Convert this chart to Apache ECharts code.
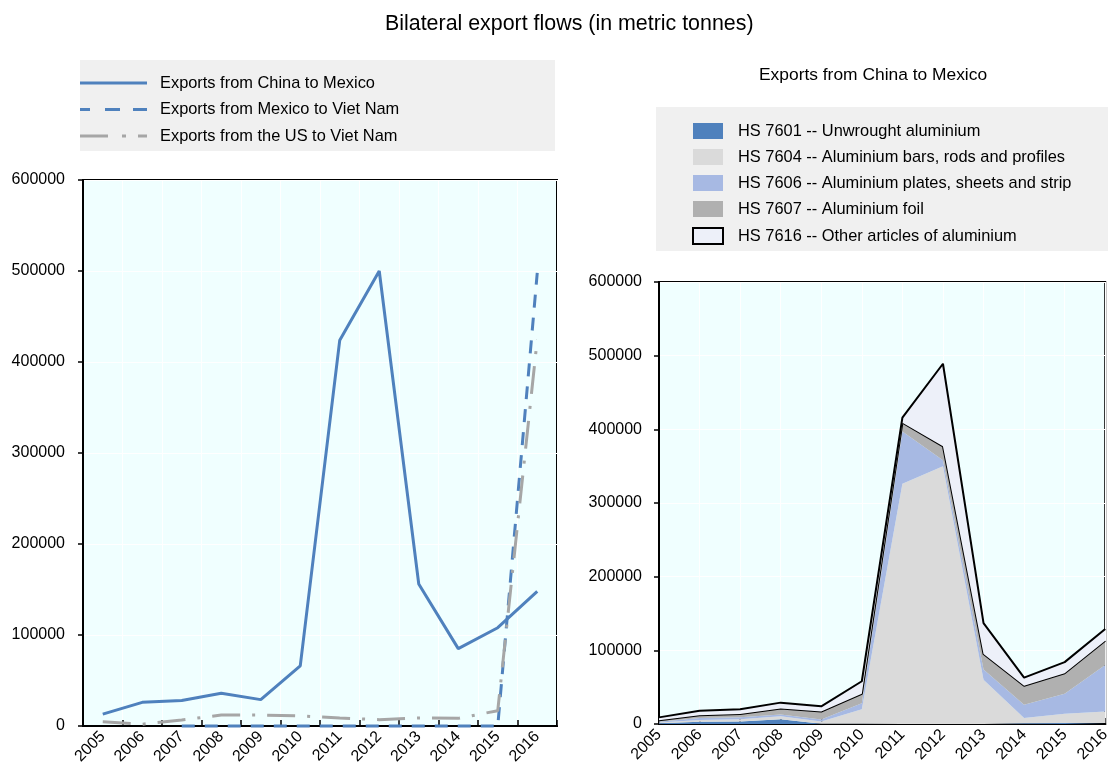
<!DOCTYPE html>
<html>
<head>
<meta charset="utf-8">
<script src="https://cdn.jsdelivr.net/npm/echarts@6/dist/echarts.min.js"></script>
<style>
html,body{margin:0;padding:0;background:#fff;}
#chart{width:1113px;height:767px;}
</style>
</head>
<body>
<div id="chart"></div>
<script>
// ---- data ----
var years = ['2005','2006','2007','2008','2009','2010','2011','2012','2013','2014','2015','2016'];
var yTicks = [0, 100000, 200000, 300000, 400000, 500000, 600000];

var chinaToMexico = [13000, 26000, 28000, 36000, 29000, 66000, 424000, 500000, 156000, 85000, 108000, 148000];
var mexicoToVietNam = [null, null, 0, 0, 0, 0, 0, 0, 0, 0, 0, 498000];
var usToVietNam = [4700, 2000, 6600, 12000, 12000, 11000, 8800, 7000, 8800, 8400, 16800, 425000];

var hs7601 = [1000, 3000, 3500, 6500, 500, 500, 0, 0, 0, 1000, 1500, 1500];
var hs7604 = [1000, 2500, 3000, 4000, 3000, 19500, 326000, 350000, 60000, 7000, 12500, 15500];
var hs7606 = [1000, 2500, 2500, 2500, 2500, 8000, 71000, 8000, 14000, 18000, 27000, 63000];
var hs7607 = [2000, 4000, 4500, 8000, 11000, 13000, 12000, 19000, 21000, 26000, 28000, 33000];
var hs7616 = [4000, 6000, 6500, 8000, 7000, 17000, 7000, 112000, 42000, 11000, 15000, 16000];

var leftNames = ['Exports from China to Mexico', 'Exports from Mexico to Viet Nam', 'Exports from the US to Viet Nam'];
var rightNames = ['HS 7601 -- Unwrought aluminium', 'HS 7604 -- Aluminium bars, rods and profiles',
  'HS 7606 -- Aluminium plates, sheets and strip', 'HS 7607 -- Aluminium foil', 'HS 7616 -- Other articles of aluminium'];

// ---- styles ----
var FONT = '"Liberation Sans", Arial, sans-serif';
var BLUE = '#4f81bd', GREY = '#a6a6a6';
var areaColors = ['#4f81bd', '#dadada', '#a7b9e3', '#b0b0b0', '#edf0f9'];
var legendIcons = [
  'path://M0,0H67V3H0Z',
  'path://M0,0H10V3H0Z M25,0H40V3H25Z M53,0H67V3H53Z',
  'path://M0,0H28V3H0Z M42,0H46V3H42Z M58,0H67V3H58Z'
];

function yAxis(gridIndex, margin) {
  return {
    type: 'value', gridIndex: gridIndex, min: yTicks[0], max: yTicks[yTicks.length - 1], interval: yTicks[1] - yTicks[0],
    axisLine: {show: true, lineStyle: {color: '#000', width: 2}},
    axisTick: {show: true, inside: false, length: 5, lineStyle: {color: '#000', width: 1.5}},
    axisLabel: {color: '#000', fontSize: 16, fontFamily: FONT, margin: margin,
      formatter: function (v) { return String(v); }},
    splitLine: {show: true, lineStyle: {color: '#ffffff', width: 1}}
  };
}
function xAxis(gridIndex, boundaryGap) {
  return {
    type: 'category', gridIndex: gridIndex, data: years, boundaryGap: boundaryGap,
    axisLine: {show: true, lineStyle: {color: '#000', width: 2}},
    axisTick: {show: true, inside: true, length: 6, lineStyle: {color: '#000', width: 1.5}},
    axisLabel: {color: '#000', fontSize: 16, fontFamily: FONT, rotate: 45, margin: 8, interval: 0},
    splitLine: {show: true, interval: 0, lineStyle: {color: '#ffffff', width: 1}}
  };
}

var areaSeries = [hs7601, hs7604, hs7606, hs7607, hs7616].map(function (d, i) {
  var outlined = (i >= 3);
  return {
    name: rightNames[i], type: 'line', xAxisIndex: 1, yAxisIndex: 1, stack: 'total',
    data: d, symbol: 'none', showSymbol: false, z: 2 + i,
    itemStyle: {color: areaColors[i]},
    lineStyle: outlined ? {color: '#000', width: 2} : {width: 0, color: areaColors[i]},
    areaStyle: {color: areaColors[i], opacity: 1},
    emphasis: {disabled: true}
  };
});

var option = {
  animation: false,
  backgroundColor: '#ffffff',
  textStyle: {fontFamily: FONT},
  title: [
    {text: 'Bilateral export flows (in metric tonnes)', left: 385, top: 14, padding: 0,
     textStyle: {fontSize: 21.4, fontWeight: 'normal', color: '#000', fontFamily: FONT}},
    {text: 'Exports from China to Mexico', left: 759, top: 67, padding: 0,
     textStyle: {fontSize: 17.4, fontWeight: 'normal', color: '#000', fontFamily: FONT}}
  ],
  graphic: [
    {type: 'rect', shape: {x: 80, y: 60, width: 475, height: 91}, style: {fill: '#f0f0f0'}, z: -10, silent: true},
    {type: 'rect', shape: {x: 656, y: 107, width: 452, height: 144}, style: {fill: '#f0f0f0'}, z: -10, silent: true}
  ],
  legend: [
    {
      orient: 'vertical', left: 80, top: 75, padding: 0, itemWidth: 67, itemHeight: 3, itemGap: 10.5,
      selectedMode: false,
      data: leftNames.map(function (n, i) { return {name: n, icon: legendIcons[i]}; }),
      textStyle: {fontSize: 16.4, color: '#000', fontFamily: FONT, padding: [0, 0, 0, 8]}
    },
    {
      orient: 'vertical', left: 692, top: 123, padding: 0, itemWidth: 30, itemHeight: 16, itemGap: 10,
      icon: 'rect', selectedMode: false,
      data: rightNames.map(function (n, i) {
        return {name: n, itemStyle: {color: areaColors[i], borderColor: i === 4 ? '#000' : areaColors[i], borderWidth: i === 4 ? 2 : 0}};
      }),
      textStyle: {fontSize: 16.4, color: '#000', fontFamily: FONT, padding: [0, 0, 0, 10]}
    }
  ],
  grid: [
    {left: 83, top: 180, width: 474, height: 546, show: true, backgroundColor: '#f0ffff', borderColor: '#000', borderWidth: 2, containLabel: false},
    {left: 659, top: 282, width: 451, height: 442, show: true, backgroundColor: '#f0ffff', borderColor: '#000', borderWidth: 2, containLabel: false}
  ],
  xAxis: [xAxis(0, true), xAxis(1, false)],
  yAxis: [yAxis(0, 18), yAxis(1, 17)],
  series: [
    {name: leftNames[0], type: 'line', xAxisIndex: 0, yAxisIndex: 0, data: chinaToMexico, symbol: 'none', showSymbol: false, clip: false,
     itemStyle: {color: BLUE}, lineStyle: {color: BLUE, width: 3}, z: 4, emphasis: {disabled: true}},
    {name: leftNames[1], type: 'line', xAxisIndex: 0, yAxisIndex: 0, data: mexicoToVietNam, symbol: 'none', showSymbol: false, clip: false,
     itemStyle: {color: BLUE}, lineStyle: {color: BLUE, width: 3, type: [13, 10]}, z: 3, emphasis: {disabled: true}},
    {name: leftNames[2], type: 'line', xAxisIndex: 0, yAxisIndex: 0, data: usToVietNam, symbol: 'none', showSymbol: false, clip: false,
     itemStyle: {color: GREY}, lineStyle: {color: GREY, width: 3, type: [28, 12, 3, 12]}, z: 3, emphasis: {disabled: true}}
  ].concat(areaSeries)
};

var chart = echarts.init(document.getElementById('chart'), null, {renderer: 'canvas'});
chart.setOption(option);
</script>
</body>
</html>
